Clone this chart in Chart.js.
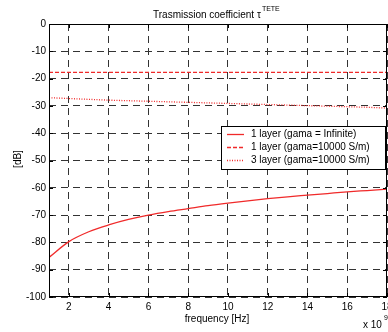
<!DOCTYPE html>
<html>
<head>
<meta charset="utf-8">
<script src="https://cdn.jsdelivr.net/npm/chart.js@4.4.0/dist/chart.umd.min.js"></script>
<style>
  html, body { margin: 0; padding: 0; background: #fff; }
  #wrap { width: 388px; height: 332px; position: relative; }
</style>
</head>
<body>
<div id="wrap"><canvas id="chart"></canvas></div>
<script>
// Data (frequency in units of 1e9 Hz)
const freqs = [1, 2, 3, 4, 5, 6, 7, 8, 9, 10, 11, 12, 13, 14, 15, 16, 17, 18];
const layer1Infinite = [-85.5, -79.7, -76.1, -73.6, -71.6, -70.0, -68.7, -67.6, -66.5, -65.6, -64.8, -64.0, -63.3, -62.7, -62.1, -61.5, -61.0, -60.5];
const layer1Gama = [-17.7, -17.7, -17.7, -17.7, -17.7, -17.7, -17.7, -17.7, -17.7, -17.7, -17.7, -17.7, -17.7, -17.7, -17.7, -17.7, -17.7, -17.7];
const layer3Gama = [-27.0, -27.3, -27.6, -27.9, -28.1, -28.3, -28.5, -28.7, -28.9, -29.1, -29.3, -29.5, -29.7, -29.9, -30.1, -30.3, -30.5, -30.8];
const xTicks = [2, 4, 6, 8, 10, 12, 14, 16, 18];
const yTicks = [0, -10, -20, -30, -40, -50, -60, -70, -80, -90, -100];

const legendLabels = [
    '1 layer (gama = Infinite)',
    '1 layer (gama=10000 S/m)',
    '3 layer (gama=10000 S/m)'
];
const RED = '#f02a2a';
const FONT = '"Liberation Sans", Arial, sans-serif';

const toPoints = (ys) => freqs.map((f, i) => ({ x: f, y: ys[i] }));

// Frame, inner ticks, title, axis labels and legend
const decorations = {
    id: 'decorations',
    afterDraw(chart) {
        const { ctx, chartArea: a, scales } = chart;
        ctx.save();

        // box
        ctx.strokeStyle = '#000';
        ctx.lineWidth = 1;
        ctx.setLineDash([]);
        ctx.strokeRect(a.left + 0.5, a.top + 0.5, a.right - a.left - 1, a.bottom - a.top - 1);

        // inner ticks
        ctx.beginPath();
        xTicks.forEach(v => {
            const x = Math.round(scales.x.getPixelForValue(v)) + 0.5;
            ctx.moveTo(x, a.bottom); ctx.lineTo(x, a.bottom - 4);
            ctx.moveTo(x, a.top); ctx.lineTo(x, a.top + 4);
        });
        yTicks.forEach(v => {
            const y = Math.round(scales.y.getPixelForValue(v)) + 0.5;
            ctx.moveTo(a.left, y); ctx.lineTo(a.left + 4, y);
            ctx.moveTo(a.right, y); ctx.lineTo(a.right - 4, y);
        });
        ctx.stroke();

        // title
        ctx.fillStyle = '#000';
        ctx.font = '10px ' + FONT;
        ctx.textBaseline = 'middle';
        ctx.textAlign = 'left';
        const t = 'Trasmission coefficient \u03c4';
        const tw = ctx.measureText(t).width;
        const tx = 153;
        ctx.fillText(t, tx, 15);
        ctx.font = '7px ' + FONT;
        ctx.fillText('TETE', tx + tw + 1, 9);

        // x label
        ctx.font = '10px ' + FONT;
        ctx.textAlign = 'center';
        ctx.fillText('frequency [Hz]', 217, 319);

        // x multiplier
        ctx.textAlign = 'left';
        ctx.fillText('x 10', 363, 325);
        ctx.font = '7px ' + FONT;
        ctx.fillText('9', 384, 318);

        // y label
        ctx.font = '10px ' + FONT;
        ctx.translate(18, 159);
        ctx.rotate(-Math.PI / 2);
        ctx.textAlign = 'center';
        ctx.fillText('[dB]', 0, 0);
        ctx.setTransform(1, 0, 0, 1, 0, 0);

        // legend
        const lx = 221, ly = 126, lw = 164, lh = 43;
        ctx.fillStyle = '#fff';
        ctx.fillRect(lx, ly, lw, lh);
        ctx.strokeStyle = '#000';
        ctx.lineWidth = 1;
        ctx.strokeRect(lx + 0.5, ly + 0.5, lw, lh);
        const dashes = [[], [4, 2], [1, 1.5]];
        const rows = [134.5, 147.5, 160.5];
        rows.forEach((y, i) => {
            ctx.strokeStyle = RED;
            ctx.lineWidth = 1.3;
            ctx.setLineDash(dashes[i]);
            ctx.beginPath();
            ctx.moveTo(227, y); ctx.lineTo(244, y);
            ctx.stroke();
            ctx.setLineDash([]);
            ctx.fillStyle = '#000';
            ctx.font = '10px ' + FONT;
            ctx.textAlign = 'left';
            ctx.textBaseline = 'middle';
            ctx.fillText(legendLabels[i], 251, y);
        });

        ctx.restore();
    }
};

const ctx = document.getElementById('chart').getContext('2d');
new Chart(ctx, {
    type: 'line',
    data: {
        datasets: [
            {
                label: legendLabels[0],
                data: toPoints(layer1Infinite),
                borderColor: RED,
                borderWidth: 1.3,
                pointRadius: 0,
                cubicInterpolationMode: 'monotone',
                fill: false
            },
            {
                label: legendLabels[1],
                data: toPoints(layer1Gama),
                borderColor: RED,
                borderWidth: 1.3,
                borderDash: [4, 2],
                pointRadius: 0,
                fill: false
            },
            {
                label: legendLabels[2],
                data: toPoints(layer3Gama),
                borderColor: RED,
                borderWidth: 1.3,
                borderDash: [1, 1.5],
                pointRadius: 0,
                fill: false
            }
        ]
    },
    options: {
        responsive: true,
        maintainAspectRatio: false,
        animation: false,
        layout: { padding: { top: 24, right: 1, left: 0, bottom: 0 } },
        plugins: {
            legend: { display: false },
            tooltip: { enabled: false },
            title: { display: false }
        },
        scales: {
            x: {
                type: 'linear',
                min: 1,
                max: 18,
                afterFit: (s) => { s.height = 35; s.paddingRight = 0; s.paddingLeft = 0; },
                afterBuildTicks: (s) => { s.ticks = xTicks.map(v => ({ value: v })); },
                border: { display: false, dash: [7, 5] },
                grid: {
                    color: '#333',
                    lineWidth: 1,
                    drawTicks: false
                },
                ticks: {
                    color: '#000',
                    font: { family: FONT, size: 10 },
                    padding: 4,
                    maxRotation: 0,
                    autoSkip: false
                }
            },
            y: {
                type: 'linear',
                min: -100,
                max: 0,
                afterFit: (s) => { s.width = 49; },
                afterBuildTicks: (s) => { s.ticks = yTicks.map(v => ({ value: v })); },
                border: { display: false, dash: [7, 5] },
                grid: {
                    color: '#333',
                    lineWidth: 1,
                    drawTicks: false
                },
                ticks: {
                    color: '#000',
                    font: { family: FONT, size: 10 },
                    padding: 3,
                    autoSkip: false
                }
            }
        }
    },
    plugins: [decorations]
});
</script>
</body>
</html>
